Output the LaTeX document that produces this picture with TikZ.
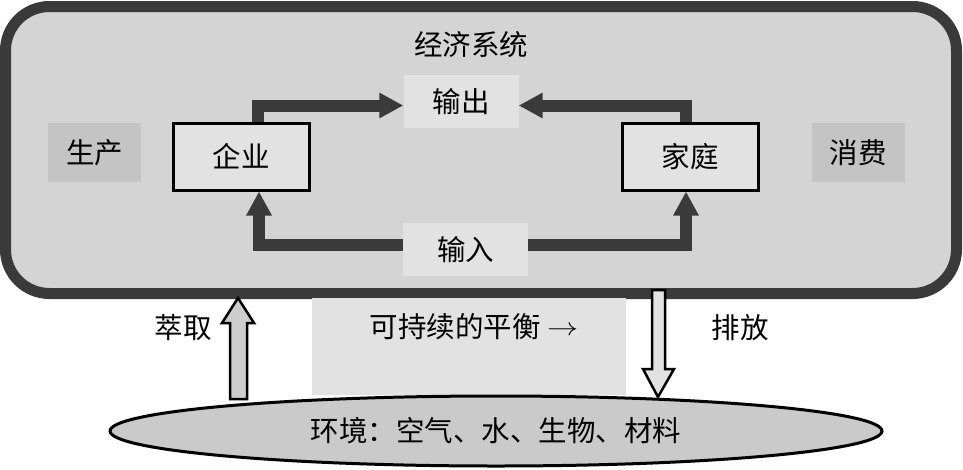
\documentclass[tikz,border=0pt]{standalone}
\usepackage{fontspec}
\newfontfamily\cjk{Noto Sans CJK SC}
\usetikzlibrary{arrows.meta, positioning, calc, shapes.geometric}

\definecolor{sysgray}{HTML}{D4D4D4}
\definecolor{palegray}{HTML}{E2E2E2}
\definecolor{midgray}{HTML}{C4C4C4}
\definecolor{flowgray}{HTML}{3A3A3A}

\begin{document}
\begin{tikzpicture}[x=1pt, y=-1pt,
                every node/.style={font=\cjk\fontsize{28.5}{32}\selectfont, inner sep=0pt},
                pale/.style={rectangle, fill=palegray},
                side/.style={rectangle, fill=midgray, minimum width=93pt, minimum height=59pt},
                agent/.style={rectangle, draw=black, line width=3pt, fill=palegray, minimum width=136pt, minimum height=67pt},
                flow/.style={draw=flowgray, line width=12pt, -{Triangle[length=24pt, width=24pt]}},
                blockarrow/.style={draw=black, line width=2.5pt, line join=miter}]
                \useasboundingbox (0,0) rectangle (963,469);

                % economic system
                \node[rectangle, draw=flowgray, line width=11pt, rounded corners=44pt, fill=sysgray,
                      minimum width=951pt, minimum height=287pt] (system) at (481,150) {};
                \node (title) at (471,45) {经济系统};

                \node[pale, minimum width=115pt, minimum height=53pt] (output) at (461,101.5) {输出};
                \node[pale, minimum width=125pt, minimum height=53pt] (input) at (465.5,249.5) {输入};
                \node[side] (prod) at (94.5,152.5) {生产};
                \node[side] (cons) at (858,152.5) {消费};
                \node[agent] (firm) at (241,156.5) {企业};
                \node[agent] (home) at (690,156.5) {家庭};

                \draw[flow] ([xshift=17pt]firm.north) |- ([yshift=-4pt]output.west);
                \draw[flow] ([xshift=-4pt]home.north) |- ([yshift=-4pt]output.east);
                \draw[flow] ([yshift=4.5pt]input.west) -| ([xshift=18pt]firm.south);
                \draw[flow] ([yshift=4.5pt]input.east) -| ([xshift=-4pt]home.south);

                % balance with the environment
                \node[pale, minimum width=314pt, minimum height=97pt] (balance) at (469,346.5) {};
                \node (balancetext) at (474,327) {可持续的平衡 \raisebox{2pt}{\scalebox{1.25}[1]{$\rightarrow$}}};
                \node[ellipse, draw=black, line width=3pt, fill=midgray!90!white,
                      minimum width=772pt, minimum height=70pt] (env) at (496,431) {环境：空气、水、生物、材料};

                \draw[blockarrow, fill=midgray!85!white] (230,399) -- (230,323) -- (222,323) -- (238,298)
                    -- (254,323) -- (247,323) -- (247,399) -- cycle;
                \draw[blockarrow, fill=palegray] (652,290) -- (665,290) -- (665,369) -- (674,369)
                    -- (658,397) -- (643,369) -- (652,369) -- cycle;
                \node (extract) at (183,328) {萃取};
                \node (emit) at (740,328) {排放};
            \end{tikzpicture}
\end{document}
